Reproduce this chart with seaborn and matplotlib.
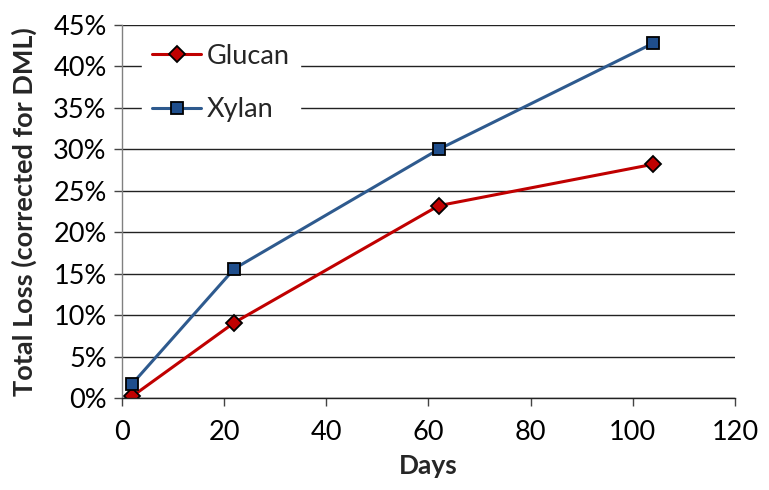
import matplotlib
matplotlib.use("Agg")
import matplotlib.pyplot as plt
import seaborn as sns
import pandas as pd
from matplotlib.ticker import FuncFormatter, MultipleLocator
from matplotlib.lines import Line2D

days = [2, 22, 62, 104]
glucan = [0.2, 9.1, 23.2, 28.2]
xylan = [1.7, 15.6, 30.0, 42.8]
series_names = ["Glucan", "Xylan"]

df = pd.DataFrame({
    "Days": days * 2,
    "Loss": glucan + xylan,
    "Series": [series_names[0]] * len(days) + [series_names[1]] * len(days),
})

sns.set_theme(style="white")
plt.rcParams["font.family"] = ["Lato", "DejaVu Sans"]

fig = plt.figure(figsize=(7.69, 4.90), dpi=100)
ax = fig.add_axes([0.1586, 0.1878, 0.7972, 0.7612])

palette = {"Glucan": "#C00000", "Xylan": "#2E5A8E"}
sns.lineplot(data=df, x="Days", y="Loss", hue="Series", style="Series",
             markers={"Glucan": "D", "Xylan": "s"}, dashes=False,
             palette=palette, linewidth=2.2, markersize=8,
             markeredgecolor="black", markeredgewidth=1.3, ax=ax, legend=False)

# marker fill colors
for line, fill in zip(ax.get_lines(), ["#C00000", "#1F4E8C"]):
    line.set_markerfacecolor(fill)

ax.set_xlim(0, 120)
ax.set_ylim(0, 45)
ax.xaxis.set_major_locator(MultipleLocator(20))
ax.yaxis.set_major_locator(MultipleLocator(5))
ax.yaxis.set_major_formatter(FuncFormatter(lambda v, p: f"{v:.0f}%"))

ax.grid(axis="y", color="#222222", linewidth=1.0)
ax.set_axisbelow(True)
for side in ["top", "right"]:
    ax.spines[side].set_visible(False)
ax.spines["left"].set_color("#808080")
ax.spines["bottom"].set_color("#222222")
ax.spines["left"].set_linewidth(1.0)
ax.spines["bottom"].set_linewidth(1.0)

ax.tick_params(axis="both", which="major", direction="out", length=6,
               width=1.0, color="#444444", labelsize=19.5, labelcolor="black",
               bottom=True, left=True, pad=5)
ax.tick_params(axis="x", pad=10)

ax.set_xlabel("Days", fontsize=19, fontweight="bold", labelpad=6)
ax.set_ylabel("Total Loss (corrected for DML)", fontsize=19.5, fontweight="bold",
              labelpad=12)

handles = [
    Line2D([], [], color="#C00000", marker="D", markersize=8,
           markerfacecolor="#C00000", markeredgecolor="black",
           markeredgewidth=1.3, linewidth=2.2),
    Line2D([], [], color="#2E5A8E", marker="s", markersize=8,
           markerfacecolor="#1F4E8C", markeredgecolor="black",
           markeredgewidth=1.3, linewidth=2.2),
]
leg = ax.legend(handles, series_names, loc="upper left",
                bbox_to_anchor=(0.01, 1.015), frameon=True, fontsize=19.5,
                handlelength=1.8, handletextpad=0.2, labelspacing=1.05,
                borderpad=0.4, facecolor="white", edgecolor="white",
                framealpha=1.0, fancybox=False)

fig.savefig("out.png", dpi=100)
